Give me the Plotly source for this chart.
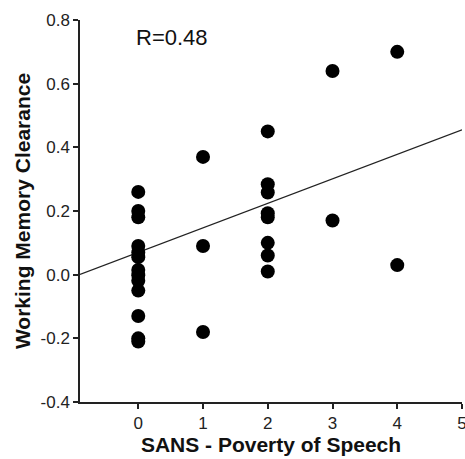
import plotly.graph_objects as go

# Data
x_vals = [0]*13 + [1]*3 + [2]*8 + [3]*2 + [4]*2
y_vals = [0.26, 0.20, 0.18, 0.09, 0.07, 0.055, 0.015, -0.002, -0.019, -0.05, -0.13, -0.20, -0.21,
          0.37, 0.09, -0.18,
          0.45, 0.284, 0.258, 0.193, 0.18, 0.10, 0.06, 0.01,
          0.64, 0.17,
          0.70, 0.03]
fit_intercept = 0.070
fit_slope = 0.077
fit_x = [-0.9, 5.0]
x_ticks = [0, 1, 2, 3, 4, 5]
y_ticks = [-0.4, -0.2, 0.0, 0.2, 0.4, 0.6, 0.8]
y_tick_labels = ["-0.4", "-0.2", "0.0", "0.2", "0.4", "0.6", "0.8"]
r_label = "R=0.48"

fit_y = [fit_intercept + fit_slope * v for v in fit_x]
FONT = "Liberation Sans, Arial, sans-serif"

fig = go.Figure()
fig.add_trace(go.Scatter(x=fit_x, y=fit_y, mode="lines",
                         line=dict(color="#222222", width=1.2), showlegend=False, hoverinfo="skip",
                         cliponaxis=False))
fig.add_trace(go.Scatter(x=x_vals, y=y_vals, mode="markers",
                         marker=dict(color="black", size=14), showlegend=False))

fig.add_annotation(x=-0.07, y=0.745, xref="x", yref="y", text=r_label, showarrow=False,
                   xanchor="left", yanchor="middle",
                   font=dict(family=FONT, size=22, color="#111111"))

axis_common = dict(showline=True, linecolor="#222222", linewidth=1.5, ticks="outside",
                   ticklen=5, tickwidth=1.5, tickcolor="#222222", showgrid=False, zeroline=False,
                   tickfont=dict(family=FONT, size=17, color="#222222"),
                   mirror=False, automargin=False, ticklabeloverflow="allow")

fig.update_layout(
    width=465, height=459,
    margin=dict(l=80, r=3, t=20, b=57),
    paper_bgcolor="white", plot_bgcolor="white",
    xaxis=dict(range=[-0.9, 5.0], tickvals=x_ticks, **axis_common,
               title=dict(text="<b>SANS - Poverty of Speech</b>", standoff=2,
                          font=dict(family=FONT, size=21, color="#111111"))),
    yaxis=dict(range=[-0.4, 0.8], tickvals=y_ticks, ticktext=y_tick_labels, **axis_common,
               title=dict(text="<b>Working Memory Clearance</b>", standoff=4,
                          font=dict(family=FONT, size=21, color="#111111"))),
)

fig.write_html("out.html", config={"displayModeBar": False},
               post_script="document.body.style.margin='0';document.body.style.overflow='hidden';")
